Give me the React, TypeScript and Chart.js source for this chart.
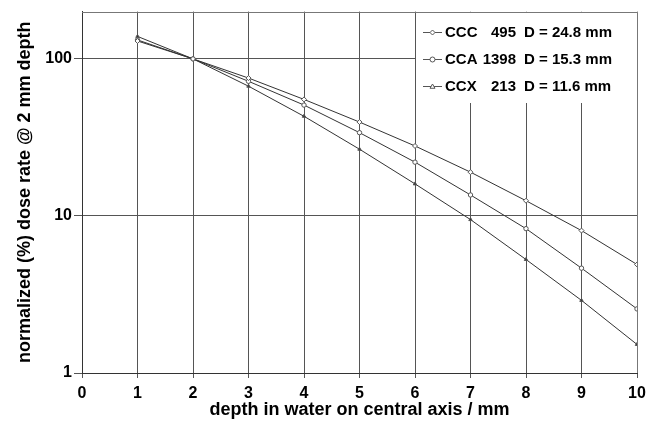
import React, { useEffect, useRef } from "react";
import { Chart, registerables } from "chart.js";

Chart.register(...registerables);

const depths = [1, 2, 3, 4, 5, 6, 7, 8, 9, 10];
const cccValues = [130, 100, 75.5, 55.2, 39.6, 27.9, 19.0, 12.5, 8.07, 4.91];
const ccaValues = [132, 100, 72, 50.8, 33.9, 22.0, 13.6, 8.3, 4.65, 2.56];
const ccxValues = [139, 100, 67, 43.1, 26.6, 16.0, 9.48, 5.28, 2.9, 1.52];
const yTickValues = [1, 10, 100];
const legendNames = ["CCC", "CCA", "CCX"];
const legendNumbers = ["495", "1398", "213"];
const legendDs = ["D = 24.8 mm", "D = 15.3 mm", "D = 11.6 mm"];
const markerStyles = ["rectRot", "circle", "triangle"];
const xTitle = "depth in water on central axis / mm";
const yTitle = "normalized (%) dose rate @ 2 mm depth";

const FONT = "'Liberation Sans', Arial, sans-serif";
const LINE = "#333333";
const GRID = "#555555";

function drawMarker(ctx: CanvasRenderingContext2D, style: string, x: number, y: number, r: number, fill: string) {
  ctx.save();
  ctx.beginPath();
  if (style === "rectRot") {
    ctx.moveTo(x, y - r);
    ctx.lineTo(x + r, y);
    ctx.lineTo(x, y + r);
    ctx.lineTo(x - r, y);
    ctx.closePath();
  } else if (style === "circle") {
    ctx.arc(x, y, r, 0, Math.PI * 2);
  } else {
    ctx.moveTo(x, y - r);
    ctx.lineTo(x + r, y + r * 0.7);
    ctx.lineTo(x - r, y + r * 0.7);
    ctx.closePath();
  }
  ctx.fillStyle = fill;
  ctx.fill();
  ctx.strokeStyle = "#555";
  ctx.lineWidth = 1;
  ctx.stroke();
  ctx.restore();
}

const customPlugin = {
  id: "custom",
  beforeDatasetsDraw(chart: any) {
    const { ctx, chartArea } = chart;
    const x6 = Math.round(chart.scales.x.getPixelForValue(6)) + 0.5;
    ctx.save();
    ctx.fillStyle = "#ffffff";
    ctx.fillRect(x6 + 0.5, chartArea.top, chartArea.right - x6, 103 - chartArea.top);
    ctx.restore();
  },
  afterDraw(chart: any) {
    const { ctx, chartArea } = chart;
    ctx.save();
    ctx.strokeStyle = "#777";
    ctx.lineWidth = 1;
    ctx.beginPath();
    const t = Math.round(chartArea.top) + 0.5;
    const r = Math.round(chartArea.right) + 0.5;
    ctx.moveTo(Math.round(chartArea.left), t);
    ctx.lineTo(r, t);
    ctx.lineTo(r, Math.round(chartArea.bottom));
    ctx.stroke();

    const rows = [32, 59, 86];
    ctx.font = `bold 15px ${FONT}`;
    ctx.textBaseline = "middle";
    ctx.fillStyle = "#000";
    for (let i = 0; i < 3; i++) {
      const y = rows[i] + 0.5;
      ctx.strokeStyle = "#555";
      ctx.lineWidth = 1;
      ctx.beginPath();
      ctx.moveTo(423, y);
      ctx.lineTo(442, y);
      ctx.stroke();
      drawMarker(ctx, markerStyles[i], 432.5, y, 2.5, "#fff");
      ctx.fillStyle = "#000";
      ctx.textAlign = "left";
      ctx.fillText(legendNames[i], 445, rows[i] + 1);
      ctx.textAlign = "right";
      ctx.fillText(legendNumbers[i], 516, rows[i] + 1);
      ctx.textAlign = "left";
      ctx.fillText(legendDs[i], 524, rows[i] + 1);
    }

    ctx.font = `bold 18px ${FONT}`;
    ctx.textAlign = "center";
    ctx.textBaseline = "middle";
    ctx.fillText(xTitle, (chartArea.left + chartArea.right) / 2, 410);
    ctx.translate(25, (chartArea.top + chartArea.bottom) / 2);
    ctx.rotate(-Math.PI / 2);
    ctx.fillText(yTitle, 0, 0);
    ctx.restore();
  },
};

export default function App() {
  const ref = useRef<HTMLCanvasElement>(null);
  useEffect(() => {
    document.body.style.margin = "0";
    const toPts = (vals: number[]) => depths.map((d, i) => ({ x: d, y: vals[i] }));
    const mk = (label: string, vals: number[], style: string, fill: string, radius: number) => ({
      label,
      data: toPts(vals),
      borderColor: LINE,
      borderWidth: 1,
      pointStyle: style,
      pointRadius: radius,
      pointBackgroundColor: fill,
      pointBorderColor: "#555",
      pointBorderWidth: 1,
      showLine: true,
      fill: false,
      tension: 0,
    });
    const chart = new Chart(ref.current!, {
      type: "scatter",
      data: {
        datasets: [
          mk("CCC", cccValues, "rectRot", "#fff", 2.5),
          mk("CCA", ccaValues, "circle", "#fff", 2.2),
          mk("CCX", ccxValues, "triangle", "#333", 2),
        ] as any,
      },
      options: {
        animation: false,
        responsive: false,
        layout: { padding: { top: 11, right: 22, left: 0, bottom: 0 } },
        plugins: { legend: { display: false }, tooltip: { enabled: false } },
        scales: {
          x: {
            type: "linear",
            min: 0,
            max: 10,
            ticks: {
              stepSize: 1,
              color: "#000",
              padding: 6,
              maxRotation: 0,
              font: { family: FONT, size: 16, weight: "bold" },
            },
            grid: { color: GRID, lineWidth: 1, tickLength: 5, drawTicks: true },
            border: { display: true, color: "#333" },
            afterFit(scale: any) {
              scale.height = 51;
            },
          },
          y: {
            type: "logarithmic",
            min: 1,
            max: 200,
            afterBuildTicks(scale: any) {
              scale.ticks = yTickValues.map((v) => ({ value: v }));
            },
            ticks: {
              color: "#000",
              padding: 2,
              font: { family: FONT, size: 16, weight: "bold" },
              callback: (v: any) => String(v),
            },
            grid: { color: GRID, lineWidth: 1, tickLength: 8, drawTicks: true },
            border: { display: true, color: "#333" },
            afterFit(scale: any) {
              scale.width = 82;
            },
          },
        },
      } as any,
      plugins: [customPlugin],
    });
    return () => chart.destroy();
  }, []);
  return <canvas ref={ref} width={659} height={424} style={{ display: "block" }} />;
}
